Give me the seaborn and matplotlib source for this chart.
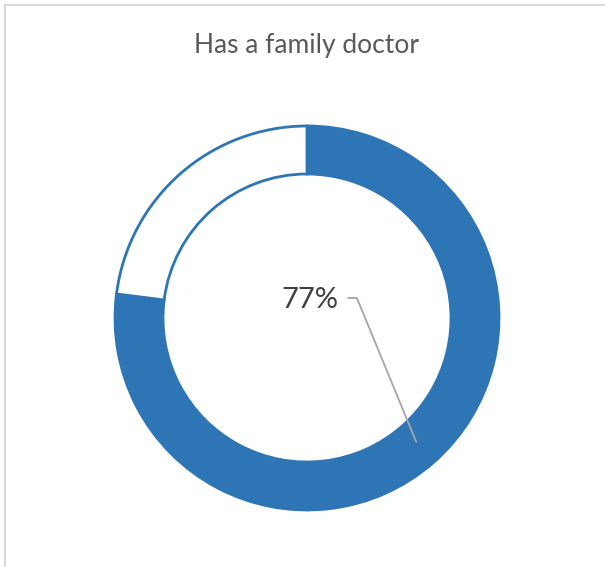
import numpy as np
import matplotlib.pyplot as plt
import seaborn as sns
from matplotlib.lines import Line2D

# Data
labels = ['Has a family doctor', 'No family doctor']
shares = [77, 23]
title = 'Has a family doctor'

blue = '#2E75B6'

sns.set_theme(style='white')
plt.rcParams['font.family'] = ['Lato', 'DejaVu Sans']

fig = plt.figure(figsize=(6.05, 5.67), dpi=100)
W, H = 605, 567

# donut placed in pixel terms: centre (307, 318), outer radius 192
cx, cy, r = 307, 318, 192
ax = fig.add_axes([(cx - r) / W, (H - cy - r) / H, 2 * r / W, 2 * r / H])
wedges, _ = ax.pie(shares, colors=[blue, 'white'], startangle=90, counterclock=False,
                   radius=1, wedgeprops=dict(width=0.25, edgecolor=blue, linewidth=2))
ax.set_xlim(-1, 1)
ax.set_ylim(-1, 1)
ax.set_aspect('equal')
ax.axis('off')

# label with leader line to middle of the blue wedge
w = wedges[0]
mid = np.deg2rad((w.theta1 + w.theta2) / 2)
end = (0.86 * np.cos(mid), 0.86 * np.sin(mid))
ax.text(0.016, 0.094, f'{shares[0]}%', ha='center', va='center', fontsize=21, color='#404040')
ax.plot([0.214, 0.26, end[0]], [0.104, 0.104, end[1]], color='#A6A6A6', lw=1.3,
        solid_joinstyle='miter')

fig.text(cx / W, 1 - 46 / H, title, ha='center', va='center', fontsize=19, color='#595959')

# chart frame (left and top edges visible in the crop)
fig.add_artist(Line2D([5 / W, 5 / W], [0, 1 - 5 / H], color='#D9D9D9', lw=1.5,
                      transform=fig.transFigure))
fig.add_artist(Line2D([5 / W, 1], [1 - 5 / H, 1 - 5 / H], color='#D9D9D9', lw=1.5,
                      transform=fig.transFigure))

fig.savefig('out.png', dpi=100)
